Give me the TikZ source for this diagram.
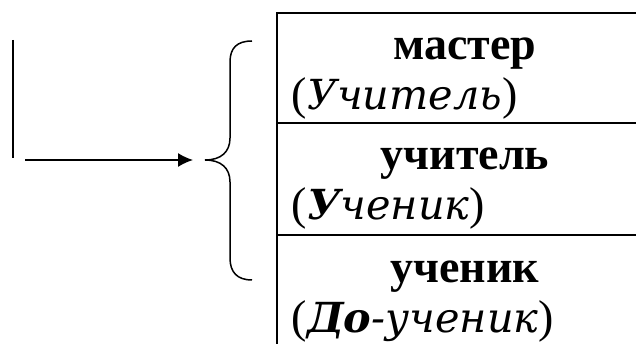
\documentclass[tikz,border=0pt]{standalone}
\usepackage{fontspec}
\setmainfont{Liberation Serif}[
  ItalicFont=DejaVu Serif Italic,
  BoldItalicFont=DejaVu Serif Bold Italic,
  ItalicFeatures={Scale=0.9},
  BoldItalicFeatures={Scale=0.9}]
\usetikzlibrary{arrows.meta}
\begin{document}
\begin{tikzpicture}[
       x=1pt,
       y=-1pt,
       line width=1.5pt,
       rol/.style={
         anchor=base,
         inner sep=0pt,
         font=\fontsize{46}{53}\selectfont\bfseries
       },
       rolnaam/.style={
         anchor=base west,
         inner sep=0pt,
         font=\fontsize{46}{53}\selectfont
       },
       rand/.style={line width=2pt},
       pijl/.style={-{Latex[length=15pt,width=14pt]}}
     ]
       \useasboundingbox (0,0) rectangle (636,344);

       \coordinate (s1) at (13,40);
       \coordinate (s2) at (13,158);
       \coordinate (a1) at (25,160);
       \coordinate (a2) at (193,160);

       \node (r1) at (465,60) [rol]{мастер};
       \node (n1) at (291,110) [rolnaam]{(\textit{Учитель})};
       \node (r2) at (465,170) [rol]{учитель};
       \node (n2) at (291,220) [rolnaam]{(\textit{\textbf{У}ченик})};
       \node (r3) at (465,282) [rol]{ученик};
       \node (n3) at (291,332) [rolnaam]{(\textit{\textbf{До}-ученик})};

       \draw (s1) -- (s2);
       \draw[pijl] (a1) -- (a2);

       % accolade
       \draw (252,41) .. controls (237,41) and (230,48) .. (230,62) -- (230,138)
             .. controls (230,152) and (221,160) .. (205,160)
             .. controls (221,160) and (230,168) .. (230,182) -- (230,258)
             .. controls (230,272) and (237,280) .. (252,280);

       % tabel
       \draw[rand] (636,13) -- (277,13) -- (277,344);
       \draw[rand] (277,123) -- (636,123);
       \draw[rand] (277,235) -- (636,235);

\end{tikzpicture}
\end{document}
